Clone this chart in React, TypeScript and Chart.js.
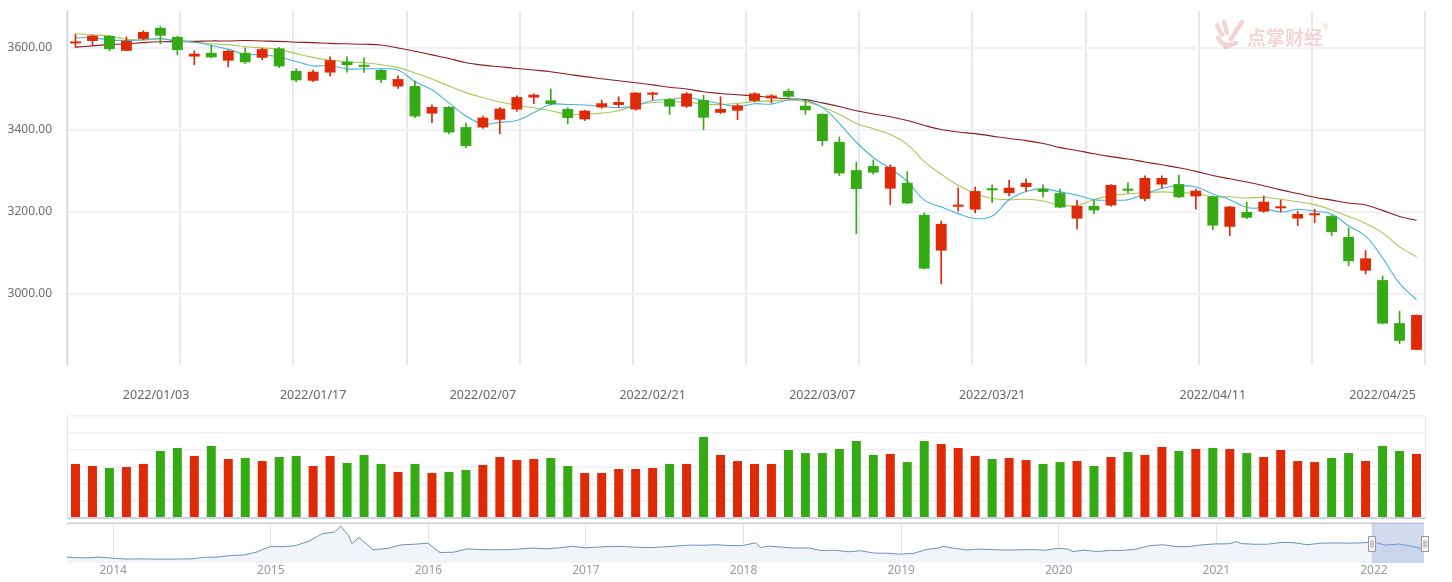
import React, { useEffect, useRef } from 'react';
import { Chart, registerables } from 'chart.js';

Chart.register(...registerables);

// ---------------- data ----------------
const dates = [
  '2021-12-27', '2021-12-28', '2021-12-29', '2021-12-30', '2021-12-31',
  '2022-01-04', '2022-01-05', '2022-01-06', '2022-01-07',
  '2022-01-10', '2022-01-11', '2022-01-12', '2022-01-13', '2022-01-14',
  '2022-01-17', '2022-01-18', '2022-01-19', '2022-01-20', '2022-01-21',
  '2022-01-24', '2022-01-25', '2022-01-26', '2022-01-27', '2022-01-28',
  '2022-02-07', '2022-02-08', '2022-02-09', '2022-02-10', '2022-02-11',
  '2022-02-14', '2022-02-15', '2022-02-16', '2022-02-17', '2022-02-18',
  '2022-02-21', '2022-02-22', '2022-02-23', '2022-02-24', '2022-02-25',
  '2022-02-28', '2022-03-01', '2022-03-02', '2022-03-03', '2022-03-04',
  '2022-03-07', '2022-03-08', '2022-03-09', '2022-03-10', '2022-03-11',
  '2022-03-14', '2022-03-15', '2022-03-16', '2022-03-17', '2022-03-18',
  '2022-03-21', '2022-03-22', '2022-03-23', '2022-03-24', '2022-03-25',
  '2022-03-28', '2022-03-29', '2022-03-30', '2022-03-31', '2022-04-01',
  '2022-04-06', '2022-04-07', '2022-04-08',
  '2022-04-11', '2022-04-12', '2022-04-13', '2022-04-14', '2022-04-15',
  '2022-04-18', '2022-04-19', '2022-04-20', '2022-04-21', '2022-04-22',
  '2022-04-25', '2022-04-26', '2022-04-27',
];

const openPrices = [
  3611, 3617, 3629, 3593, 3622, 3649, 3627, 3579, 3588, 3569,
  3588, 3576, 3599, 3544, 3520, 3540, 3566, 3556, 3546, 3506,
  3507, 3440, 3456, 3407, 3406, 3425, 3450, 3479, 3472, 3451,
  3426, 3455, 3461, 3450, 3486, 3475, 3457, 3473, 3442, 3447,
  3471, 3477, 3495, 3459, 3439, 3371, 3302, 3312, 3257, 3271,
  3193, 3106, 3213, 3206, 3256, 3246, 3261, 3256, 3246, 3184,
  3215, 3216, 3256, 3232, 3267, 3268, 3238, 3238, 3164, 3200,
  3201, 3209, 3184, 3192, 3190, 3139, 3057, 3034, 2929, 2864,
];
const highPrices = [
  3633, 3631, 3630, 3627, 3642, 3652, 3628, 3593, 3607, 3594,
  3600, 3599, 3601, 3549, 3546, 3578, 3578, 3576, 3547, 3532,
  3519, 3461, 3457, 3417, 3434, 3455, 3483, 3488, 3500, 3454,
  3448, 3473, 3481, 3491, 3492, 3477, 3491, 3485, 3481, 3463,
  3491, 3486, 3500, 3471, 3440, 3383, 3322, 3327, 3315, 3298,
  3198, 3178, 3259, 3261, 3266, 3278, 3281, 3266, 3256, 3229,
  3229, 3267, 3271, 3288, 3288, 3290, 3256, 3239, 3214, 3224,
  3239, 3229, 3202, 3207, 3192, 3161, 3106, 3044, 2958, 2949,
];
const lowPrices = [
  3601, 3607, 3593, 3593, 3620, 3610, 3583, 3559, 3576, 3554,
  3562, 3571, 3552, 3518, 3518, 3532, 3541, 3540, 3515, 3501,
  3430, 3418, 3391, 3357, 3404, 3391, 3445, 3464, 3461, 3415,
  3423, 3453, 3455, 3448, 3473, 3438, 3455, 3401, 3440, 3425,
  3469, 3466, 3476, 3438, 3362, 3289, 3147, 3292, 3218, 3220,
  3061, 3025, 3202, 3198, 3223, 3239, 3251, 3237, 3210, 3159,
  3196, 3214, 3246, 3227, 3258, 3235, 3207, 3157, 3142, 3184,
  3199, 3200, 3167, 3174, 3142, 3069, 3049, 2927, 2879, 2864,
];
const closePrices = [
  3615, 3630, 3597, 3617, 3639, 3630, 3595, 3586, 3577, 3593,
  3565, 3597, 3555, 3521, 3542, 3570, 3558, 3554, 3522, 3524,
  3433, 3456, 3394, 3361, 3430, 3452, 3480, 3486, 3463, 3429,
  3447, 3465, 3468, 3491, 3491, 3457, 3489, 3430, 3451, 3460,
  3489, 3484, 3481, 3448, 3373, 3294, 3256, 3296, 3310, 3221,
  3062, 3171, 3215, 3251, 3253, 3259, 3271, 3249, 3211, 3215,
  3204, 3266, 3252, 3283, 3283, 3236, 3252, 3167, 3213, 3186,
  3225, 3211, 3195, 3194, 3151, 3080, 3087, 2928, 2886, 2949,
];

const ma5 = [
  3624, 3625, 3619, 3618, 3620, 3623, 3616, 3614, 3606, 3597,
  3584, 3584, 3578, 3567, 3556, 3557, 3549, 3549, 3549, 3546,
  3518, 3498, 3466, 3434, 3415, 3419, 3423, 3442, 3462, 3462,
  3461, 3458, 3454, 3460, 3472, 3474, 3479, 3472, 3464, 3457,
  3464, 3463, 3473, 3472, 3455, 3416, 3370, 3333, 3306, 3275,
  3229, 3212, 3196, 3184, 3190, 3230, 3250, 3257, 3249, 3241,
  3230, 3229, 3230, 3244, 3258, 3264, 3261, 3244, 3230, 3211,
  3209, 3200, 3206, 3202, 3195, 3166, 3141, 3088, 3026, 2986,
];
const ma10 = [
  3635, 3632, 3629, 3621, 3619, 3622, 3618, 3614, 3610, 3608,
  3603, 3600, 3596, 3586, 3577, 3570, 3566, 3564, 3559, 3552,
  3539, 3524, 3507, 3491, 3479, 3468, 3460, 3454, 3447, 3438,
  3439, 3441, 3447, 3460, 3467, 3468, 3468, 3463, 3462, 3465,
  3469, 3471, 3473, 3469, 3456, 3438, 3416, 3403, 3389, 3365,
  3323, 3292, 3265, 3245, 3233, 3230, 3231, 3227, 3217, 3216,
  3230, 3240, 3244, 3247, 3249, 3247, 3245, 3237, 3237, 3234,
  3236, 3231, 3225, 3218, 3205, 3189, 3172, 3149, 3115, 3091,
];
const ma30 = [
  3602, 3605, 3608, 3610, 3613, 3615, 3616, 3616, 3617, 3617,
  3618, 3617, 3616, 3614, 3613, 3611, 3610, 3609, 3607, 3600,
  3592, 3583, 3574, 3564, 3558, 3554, 3550, 3546, 3542, 3536,
  3530, 3525, 3520, 3515, 3510, 3504, 3500, 3493, 3489, 3486,
  3483, 3479, 3476, 3474, 3466, 3457, 3447, 3439, 3432, 3423,
  3411, 3401, 3395, 3391, 3385, 3379, 3374, 3367, 3357, 3350,
  3342, 3335, 3329, 3322, 3315, 3308, 3299, 3289, 3281, 3273,
  3264, 3254, 3245, 3236, 3229, 3222, 3217, 3204, 3189, 3180,
];

const volumes = [
  318, 306, 294, 300, 318, 394, 412, 365, 424, 347,
  353, 335, 359, 365, 306, 365, 324, 371, 318, 271,
  318, 265, 271, 282, 312, 359, 341, 347, 353, 306,
  265, 265, 288, 288, 294, 318, 318, 477, 371, 335,
  318, 318, 400, 382, 382, 406, 453, 371, 377, 329,
  453, 435, 412, 365, 347, 353, 341, 318, 329, 335,
  306, 359, 388, 371, 418, 394, 406, 412, 406, 382,
  359, 400, 335, 329, 353, 382, 335, 424, 394, 377,
];

const axisLabelDates = [
  '2022/01/03', '2022/01/17', '2022/02/07', '2022/02/21',
  '2022/03/07', '2022/03/21', '2022/04/11', '2022/04/25',
];
const priceTicks = [3000, 3200, 3400, 3600];
const priceMin = 2827;
const priceMax = 3690;
const volumeMax = 600;
const volumeStep = 100;

const sliderDates = [
  '2013-09-16', '2013-09-30', '2013-10-31', '2013-11-29', '2013-12-31',
  '2014-01-30', '2014-02-28', '2014-03-31', '2014-04-30', '2014-05-30', '2014-06-30',
  '2014-07-31', '2014-08-29', '2014-09-30', '2014-10-31', '2014-11-28', '2014-12-31',
  '2015-01-30', '2015-02-27', '2015-03-31', '2015-04-30', '2015-05-29', '2015-06-12',
  '2015-06-30', '2015-07-08', '2015-07-24', '2015-08-26', '2015-09-30', '2015-10-30',
  '2015-11-30', '2015-12-31',
  '2016-01-28', '2016-02-29', '2016-03-31', '2016-04-29', '2016-05-31', '2016-06-30',
  '2016-07-29', '2016-08-31', '2016-09-30', '2016-10-31', '2016-11-30', '2016-12-30',
  '2017-01-26', '2017-02-28', '2017-03-31', '2017-04-28', '2017-05-31', '2017-06-30',
  '2017-07-31', '2017-08-31', '2017-09-29', '2017-10-31', '2017-11-30', '2017-12-29',
  '2018-01-29', '2018-02-09', '2018-02-28', '2018-03-30', '2018-04-27', '2018-05-31',
  '2018-06-29', '2018-07-31', '2018-08-31', '2018-09-28', '2018-10-31', '2018-11-30',
  '2018-12-28',
  '2019-01-31', '2019-02-28', '2019-03-29', '2019-04-08', '2019-04-30', '2019-05-31',
  '2019-06-28', '2019-07-31', '2019-08-30', '2019-09-30', '2019-10-31', '2019-11-29',
  '2019-12-31',
  '2020-01-23', '2020-02-03', '2020-02-28', '2020-03-31', '2020-04-30', '2020-05-29',
  '2020-06-30', '2020-07-31', '2020-08-31', '2020-09-30', '2020-10-30', '2020-11-30',
  '2020-12-31',
  '2021-01-29', '2021-02-18', '2021-02-26', '2021-03-31', '2021-04-30', '2021-05-31',
  '2021-06-30', '2021-07-30', '2021-08-31', '2021-09-30', '2021-10-29', '2021-11-30',
  '2021-12-31',
  '2022-01-28', '2022-02-28', '2022-03-31', '2022-04-27',
];
const sliderCloses = [
  2230, 2175, 2141, 2220, 2116,
  2033, 2056, 2033, 2026, 2039, 2048,
  2201, 2217, 2364, 2420, 2683, 3235,
  3210, 3310, 3748, 4441, 4612, 5166,
  4277, 3507, 4070, 2927, 3053, 3383,
  3445, 3539,
  2656, 2688, 3004, 2938, 2917, 2930,
  2979, 3085, 3005, 3100, 3250, 3104,
  3159, 3242, 3223, 3155, 3117, 3192,
  3273, 3361, 3349, 3393, 3317, 3307,
  3587, 3129, 3259, 3169, 3082, 3095,
  2847, 2876, 2725, 2821, 2603, 2588,
  2494,
  2585, 2941, 3091, 3245, 3078, 2899,
  2979, 2932, 2886, 2905, 2929, 2872,
  3050,
  2976, 2746, 2880, 2750, 2860, 2852,
  2985, 3310, 3396, 3218, 3225, 3392,
  3473,
  3483, 3696, 3509, 3442, 3447, 3615,
  3591, 3397, 3544, 3568, 3547, 3564,
  3640,
  3361, 3462, 3252, 2958,
];
const sliderYears = [2014, 2015, 2016, 2017, 2018, 2019, 2020, 2021, 2022];
const sliderMin = 1660;
const sliderMax = 5460;

// ---------------- styles ----------------
const UP_COLOR = '#de2a06';
const DOWN_COLOR = '#35aa14';
const MA5_COLOR = '#45b5de';
const MA10_COLOR = '#a9c852';
const MA30_COLOR = '#8e1b1e';
const FONT = "'Noto Sans', 'DejaVu Sans', sans-serif";

const dayNumber = (s: string) => {
  const [y, m, d] = s.split(/[-/]/).map(Number);
  return Date.UTC(y, m - 1, d) / 86400000;
};
const datePosition = (label: string) => {
  const t = dayNumber(label);
  for (let i = 0; i < dates.length; i++) {
    const di = dayNumber(dates[i]);
    if (di >= t) {
      if (di === t || i === 0) return i;
      const a = dayNumber(dates[i - 1]);
      return i - 1 + (t - a) / (di - a);
    }
  }
  return dates.length - 1;
};
const decimalYear = (s: string) => {
  const [y] = s.split('-').map(Number);
  const start = Date.UTC(y, 0, 1) / 86400000;
  const end = Date.UTC(y + 1, 0, 1) / 86400000;
  return y + (dayNumber(s) - start) / (end - start);
};

const candleColors = dates.map((_, i) => (closePrices[i] >= openPrices[i] ? UP_COLOR : DOWN_COLOR));

const noPad = (s: any) => {
  s.paddingTop = 0;
  s.paddingBottom = 0;
  s.paddingLeft = 0;
  s.paddingRight = 0;
};

const sliderPlugin = {
  id: 'sliderDecor',
  afterDatasetsDraw(chart: any) {
    const { ctx, chartArea } = chart;
    const xs = chart.scales.x;
    const left = xs.getPixelForValue(decimalYear(dates[0]));
    const right = xs.getPixelForValue(decimalYear(dates[dates.length - 1]));
    ctx.save();
    ctx.strokeStyle = '#cfcfcf';
    ctx.lineWidth = 1.5;
    ctx.beginPath();
    ctx.moveTo(chartArea.left, chartArea.top + 0.25);
    ctx.lineTo(chartArea.right, chartArea.top + 0.25);
    ctx.stroke();
    ctx.fillStyle = 'rgba(140, 160, 212, 0.38)';
    ctx.fillRect(left, chartArea.top, right - left, chartArea.bottom - chartArea.top);
    const midY = (chartArea.top + chartArea.bottom) / 2;
    [left, right].forEach((hx) => {
      const w = 7;
      const h = 15;
      const x0 = Math.round(hx - w / 2) + 0.5;
      const y0 = Math.round(midY - h / 2) + 0.5;
      ctx.fillStyle = '#f4f4f4';
      ctx.strokeStyle = '#9a9a9a';
      ctx.lineWidth = 1;
      ctx.beginPath();
      ctx.rect(x0, y0, w, h);
      ctx.fill();
      ctx.stroke();
      ctx.beginPath();
      ctx.moveTo(x0 + 2.5, y0 + 4);
      ctx.lineTo(x0 + 2.5, y0 + h - 4);
      ctx.moveTo(x0 + 4.5, y0 + 4);
      ctx.lineTo(x0 + 4.5, y0 + h - 4);
      ctx.stroke();
    });
    ctx.restore();
  },
};

export default function App() {
  const mainRef = useRef<HTMLCanvasElement | null>(null);
  const volRef = useRef<HTMLCanvasElement | null>(null);
  const sliderRef = useRef<HTMLCanvasElement | null>(null);

  useEffect(() => {
    const n = dates.length;
    const lineDs = (label: string, data: number[], color: string) =>
      ({
        type: 'line',
        label,
        data,
        borderColor: color,
        borderWidth: 1.1,
        pointRadius: 0,
        tension: 0.4,
        fill: false,
        xAxisID: 'x',
        yAxisID: 'y',
      } as any);

    const main = new Chart(mainRef.current as HTMLCanvasElement, {
      type: 'bar',
      data: {
        labels: dates,
        datasets: [
          {
            type: 'bar',
            label: 'body',
            data: dates.map((_, i) => [openPrices[i], closePrices[i]]),
            backgroundColor: candleColors,
            barPercentage: 0.64,
            categoryPercentage: 1,
            grouped: false,
            minBarLength: 2,
            xAxisID: 'x',
            yAxisID: 'y',
          } as any,
          {
            type: 'bar',
            label: 'wick',
            data: dates.map((_, i) => [lowPrices[i], highPrices[i]]),
            backgroundColor: candleColors,
            barThickness: 1,
            grouped: false,
            xAxisID: 'x',
            yAxisID: 'y',
          } as any,
          lineDs('MA5', ma5, MA5_COLOR),
          lineDs('MA10', ma10, MA10_COLOR),
          lineDs('MA30', ma30, MA30_COLOR),
        ],
      },
      options: {
        animation: false,
        responsive: false,
        events: [],
        layout: { padding: { top: 11, right: 27, left: 0, bottom: 0 } },
        plugins: { legend: { display: false }, tooltip: { enabled: false } },
        scales: {
          x: { type: 'category', display: false, offset: true, grid: { display: false } },
          xg: {
            type: 'linear',
            axis: 'x',
            position: 'bottom',
            offset: false,
            min: -0.5,
            max: n - 0.5,
            afterBuildTicks: (s: any) => {
              s.ticks = Array.from({ length: 13 }, (_, k) => ({ value: -0.5 + (k * n) / 12 }));
            },
            ticks: { display: false },
            grid: { color: '#e5e9f0', lineWidth: 2, drawTicks: false, offset: false },
            border: { display: false },
            afterFit: (s: any) => {
              s.height = 0;
              noPad(s);
            },
          },
          xl: {
            type: 'linear',
            axis: 'x',
            position: 'bottom',
            offset: false,
            min: -0.5,
            max: n - 0.5,
            afterBuildTicks: (s: any) => {
              s.ticks = axisLabelDates.map((l) => ({ value: datePosition(l) }));
            },
            ticks: {
              autoSkip: false,
              maxRotation: 0,
              padding: 23,
              color: '#666',
              font: { size: 12.5, family: FONT },
              callback: (_v: any, idx: number) => axisLabelDates[idx],
            },
            grid: { display: false, drawTicks: false, offset: false },
            border: { display: false },
            afterFit: (s: any) => {
              s.height = 40;
              noPad(s);
            },
          },
          y: {
            type: 'linear',
            position: 'left',
            min: priceMin,
            max: priceMax,
            afterBuildTicks: (s: any) => {
              s.ticks = priceTicks.map((v) => ({ value: v }));
            },
            ticks: {
              padding: 15,
              color: '#6e6e6e',
              font: { size: 12, family: FONT },
              callback: (v: any) => Number(v).toFixed(2),
            },
            grid: { color: '#f0f2f7', lineWidth: 2, drawTicks: false },
            border: { color: '#c3d4e8', width: 1 },
            afterFit: (s: any) => {
              s.width = 67;
              noPad(s);
            },
          },
        },
      } as any,
    });

    const vol = new Chart(volRef.current as HTMLCanvasElement, {
      type: 'bar',
      data: {
        labels: dates,
        datasets: [
          {
            label: 'volume',
            data: volumes,
            backgroundColor: candleColors,
            barPercentage: 0.53,
            categoryPercentage: 1,
          },
        ],
      },
      options: {
        animation: false,
        responsive: false,
        events: [],
        layout: { padding: { top: 11, right: 27, left: 0, bottom: 3 } },
        plugins: { legend: { display: false }, tooltip: { enabled: false } },
        scales: {
          x: { type: 'category', display: false, offset: true },
          y: {
            type: 'linear',
            position: 'left',
            min: 0,
            max: volumeMax,
            ticks: { display: false, stepSize: volumeStep },
            grid: {
              color: (c: any) => (c.tick && c.tick.value === 0 ? '#c9d5e6' : '#eff1f6'),
              lineWidth: (c: any) => (c.tick && c.tick.value === 0 ? 2 : 1.5),
              drawTicks: false,
            },
            border: { color: '#dde4ee', width: 1 },
            afterFit: (s: any) => {
              s.width = 67;
              noPad(s);
            },
          },
          yr: {
            type: 'linear',
            position: 'right',
            display: true,
            ticks: { display: false },
            grid: { display: false, drawTicks: false },
            border: { color: '#e4e9f0', width: 1 },
            afterFit: (s: any) => {
              s.width = 0;
              noPad(s);
            },
          },
        },
      } as any,
    });

    const slider = new Chart(sliderRef.current as HTMLCanvasElement, {
      type: 'line',
      data: {
        datasets: [
          {
            label: 'history',
            data: sliderDates.map((d, i) => ({ x: decimalYear(d), y: sliderCloses[i] })),
            borderColor: '#6e8fc2',
            borderWidth: 1,
            pointRadius: 0,
            tension: 0,
            fill: 'start',
            backgroundColor: '#f1f4f9',
          },
        ],
      },
      options: {
        animation: false,
        responsive: false,
        events: [],
        layout: { padding: { top: 8, right: 28, left: 67, bottom: 0 } },
        plugins: { legend: { display: false }, tooltip: { enabled: false } },
        scales: {
          x: {
            type: 'linear',
            min: decimalYear(sliderDates[0]),
            max: decimalYear(sliderDates[sliderDates.length - 1]),
            afterBuildTicks: (s: any) => {
              s.ticks = sliderYears.map((v) => ({ value: v }));
            },
            ticks: {
              autoSkip: false,
              maxRotation: 0,
              padding: 0,
              color: '#9a9a9a',
              font: { size: 12, family: FONT },
              callback: (v: any) => String(v),
            },
            grid: { color: '#e3e3e3', lineWidth: 1, drawTicks: false },
            border: { display: false },
            afterFit: (s: any) => {
              s.height = 19;
              noPad(s);
            },
          },
          y: { type: 'linear', display: false, min: sliderMin, max: sliderMax },
        },
      } as any,
      plugins: [sliderPlugin],
    });

    return () => {
      main.destroy();
      vol.destroy();
      slider.destroy();
    };
  }, []);

  return (
    <div
      style={{
        position: 'absolute',
        left: 0,
        top: 0,
        width: 1452,
        height: 582,
        background: '#ffffff',
        overflow: 'hidden',
      }}
    >
      <canvas ref={mainRef} width={1452} height={405} style={{ position: 'absolute', left: 0, top: 0 }} />
      <canvas ref={volRef} width={1452} height={116} style={{ position: 'absolute', left: 0, top: 405 }} />
      <canvas ref={sliderRef} width={1452} height={67} style={{ position: 'absolute', left: 0, top: 515 }} />
      <div style={{ position: 'absolute', left: 1212, top: 19, width: 130, height: 34, pointerEvents: 'none', opacity: 0.55 }}>
        <svg width="36" height="34" viewBox="0 0 36 34" style={{ position: 'absolute', left: 0, top: 0 }}>
          <g fill="none" stroke="#eab1b1" strokeLinecap="round" strokeWidth="4.5">
            <path d="M5 6 L10 16" />
            <path d="M12 3 L15 14" />
            <path d="M30 3 L19 20" />
            <path d="M6 19 Q12 30 24 24" />
          </g>
          <circle cx="14" cy="27" r="3.2" fill="#eab1b1" />
        </svg>
        <span
          style={{
            position: 'absolute',
            left: 35,
            top: 6,
            fontFamily: "'Noto Sans CJK SC', sans-serif",
            fontWeight: 700,
            fontSize: 19,
            lineHeight: '24px',
            color: '#e8b4b4',
            whiteSpace: 'nowrap',
          }}
        >
          点掌财经
        </span>
        <span
          style={{
            position: 'absolute',
            left: 110,
            top: 2,
            fontFamily: "'Noto Sans', sans-serif",
            fontSize: 8,
            color: '#e8b4b4',
          }}
        >
          ®
        </span>
      </div>
    </div>
  );
}
